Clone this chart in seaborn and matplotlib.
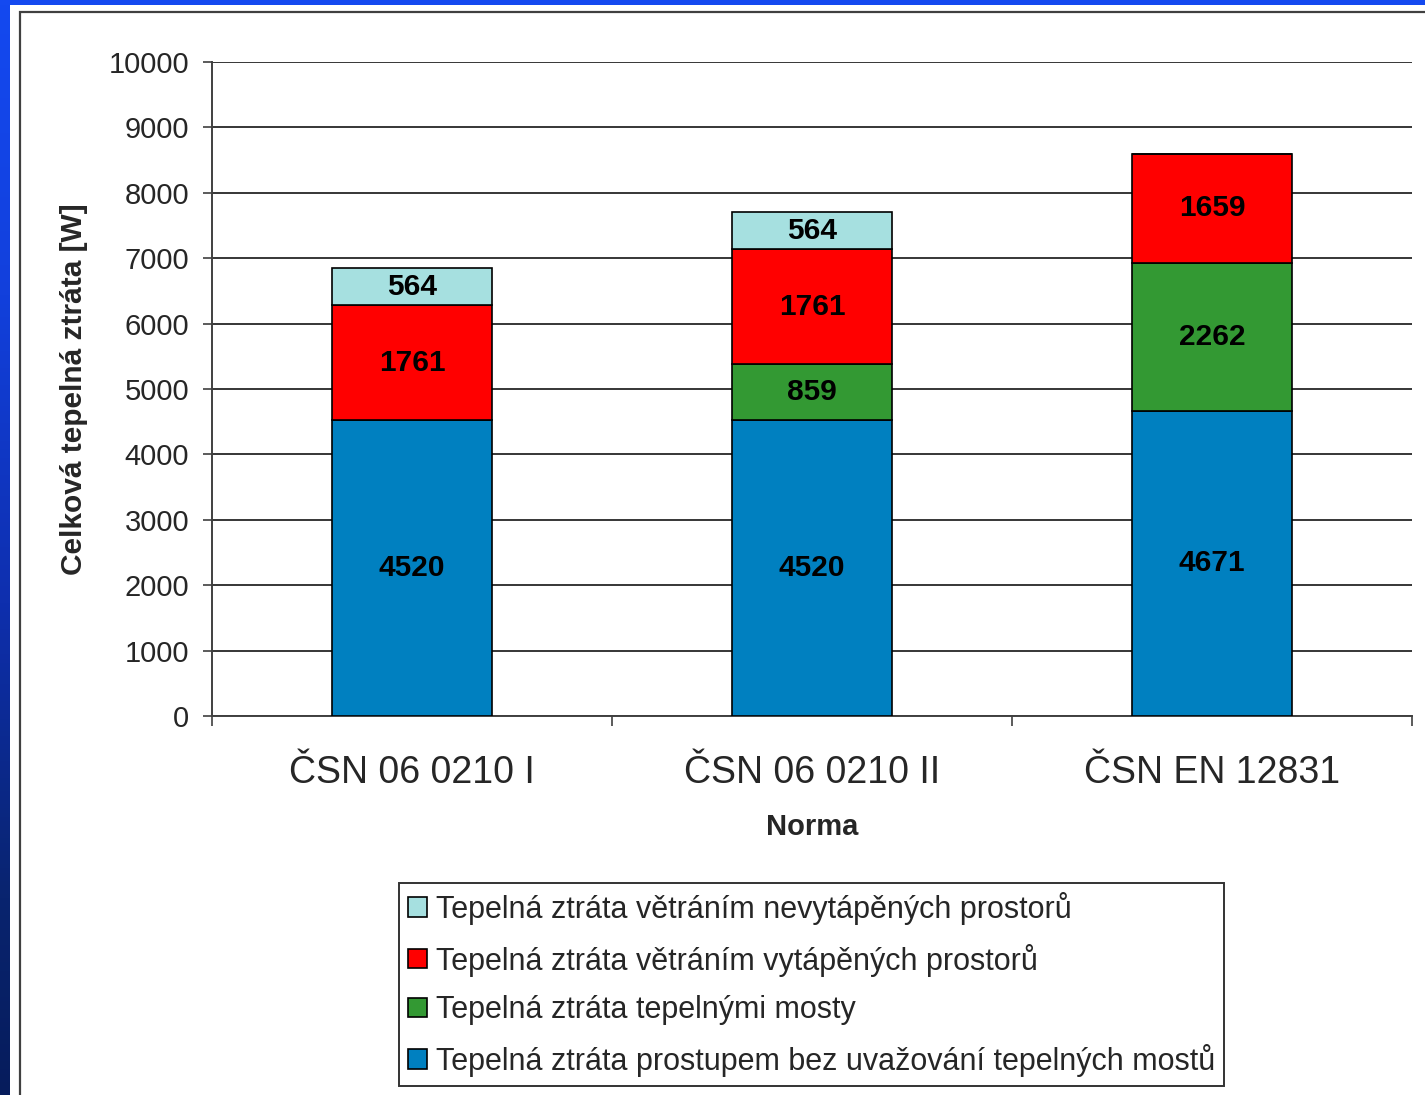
import numpy as np
import pandas as pd
import seaborn as sns
import matplotlib.pyplot as plt
from matplotlib.patches import Rectangle
from matplotlib.colors import LinearSegmentedColormap

# ---------------------------------------------------------------
# Data

categories = ['ČSN 06 0210 I', 'ČSN 06 0210 II', 'ČSN EN 12831']
prostup = [4520, 4520, 4671]        # bottom segment (blue)
mosty = [0, 859, 2262]              # thermal bridges (green)
vytapene = [1761, 1761, 1659]       # heated spaces ventilation (red)
nevytapene = [564, 564, 0]          # unheated spaces ventilation (cyan)

series_names = [
    'Tepelná ztráta prostupem bez uvažování tepelných mostů',
    'Tepelná ztráta tepelnými mosty',
    'Tepelná ztráta větráním vytápěných prostorů',
    'Tepelná ztráta větráním nevytápěných prostorů',
]
series_values = [prostup, mosty, vytapene, nevytapene]
series_colors = ['#0080c0', '#339933', '#ff0000', '#a6e0e0']

# ---------------------------------------------------------------
# Style

sns.set_style("white")
plt.rcParams['font.family'] = ['Liberation Sans', 'DejaVu Sans']

fig = plt.figure(figsize=(14.25, 10.95), dpi=100)
fig.patch.set_facecolor('white')

# blue frame (top strip + gradient on the left)
fig.patches.append(Rectangle((0, 1 - 5 / 1095), 1, 5 / 1095, transform=fig.transFigure,
                             facecolor='#1449f0', edgecolor='none', zorder=0))
cmap = LinearSegmentedColormap.from_list(
    'side', [(0, '#1449f0'), (0.27, '#1240dc'), (0.55, '#0e2fae'), (0.82, '#09246f'), (1, '#061c5c')])
side = fig.add_axes([0, 0, 10 / 1425, 1])
side.imshow(np.linspace(0, 1, 256).reshape(-1, 1), cmap=cmap, aspect='auto')
side.axis('off')

# panel border
fig.patches.append(Rectangle((20 / 1425, -0.1), 1.2, 1 - 12 / 1095 + 0.1, transform=fig.transFigure,
                             facecolor='none', edgecolor='#404040', linewidth=1.6, zorder=1))

ax = fig.add_axes([212 / 1425, 1 - 716 / 1095, 1200 / 1425, 654 / 1095])

# ---------------------------------------------------------------
# Stacked bars

bottom = np.zeros(len(categories))
for name, vals, col in zip(series_names, series_values, series_colors):
    df = pd.DataFrame({'norma': categories, 'value': vals})
    sns.barplot(data=df, x='norma', y='value', color=col, saturation=1, width=0.4,
                edgecolor='black', linewidth=1.2, bottom=bottom,
                errorbar=None, ax=ax, zorder=3, label=name, legend=False)
    labels = [str(v) if v > 0 else '' for v in vals]
    ax.bar_label(ax.containers[-1], labels=labels, label_type='center',
                 fontsize=21.5, fontweight='bold', color='black')
    bottom = bottom + np.array(vals)

if ax.get_legend() is not None:
    ax.get_legend().remove()

# ---------------------------------------------------------------
# Axes

ax.set_ylim(0, 10000)
ax.set_xlim(-0.5, 2.5)
ax.set_yticks(range(0, 10001, 1000))
ax.yaxis.grid(True, color='black', linewidth=1.1, zorder=0)
ax.set_axisbelow(True)
for s in ['top', 'right']:
    ax.spines[s].set_visible(False)
for s in ['left', 'bottom']:
    ax.spines[s].set_color('#404040')
    ax.spines[s].set_linewidth(1.4)

ax.tick_params(axis='y', which='major', length=6.5, width=1.2, color='#404040',
               pad=10, labelsize=21, left=True)
ax.set_xticks(range(len(categories)))
ax.set_xticklabels(categories)
ax.set_xticks([-0.5, 0.5, 1.5, 2.5], minor=True)
ax.tick_params(axis='x', which='major', length=0, pad=28, labelsize=27)
ax.tick_params(axis='x', which='minor', length=7.5, width=1.2, color='#404040', bottom=True)

ax.set_ylabel('Celková tepelná ztráta [W]', fontsize=21.5, fontweight='bold', labelpad=15)
ax.set_xlabel('Norma', fontsize=21, fontweight='bold', labelpad=16)

# ---------------------------------------------------------------
# Legend (reverse order like the original)

handles, labs = ax.get_legend_handles_labels()
leg = fig.legend(handles[::-1], labs[::-1], loc='lower left',
                 bbox_to_anchor=(399 / 1425, 9 / 1095), fontsize=22,
                 frameon=True, fancybox=False, edgecolor='black',
                 handlelength=0.6, handleheight=0.6, handletextpad=0.3,
                 labelspacing=0.61, borderpad=0.3, borderaxespad=0)
leg.get_frame().set_linewidth(1.4)

fig.savefig('out.png', dpi=100)
